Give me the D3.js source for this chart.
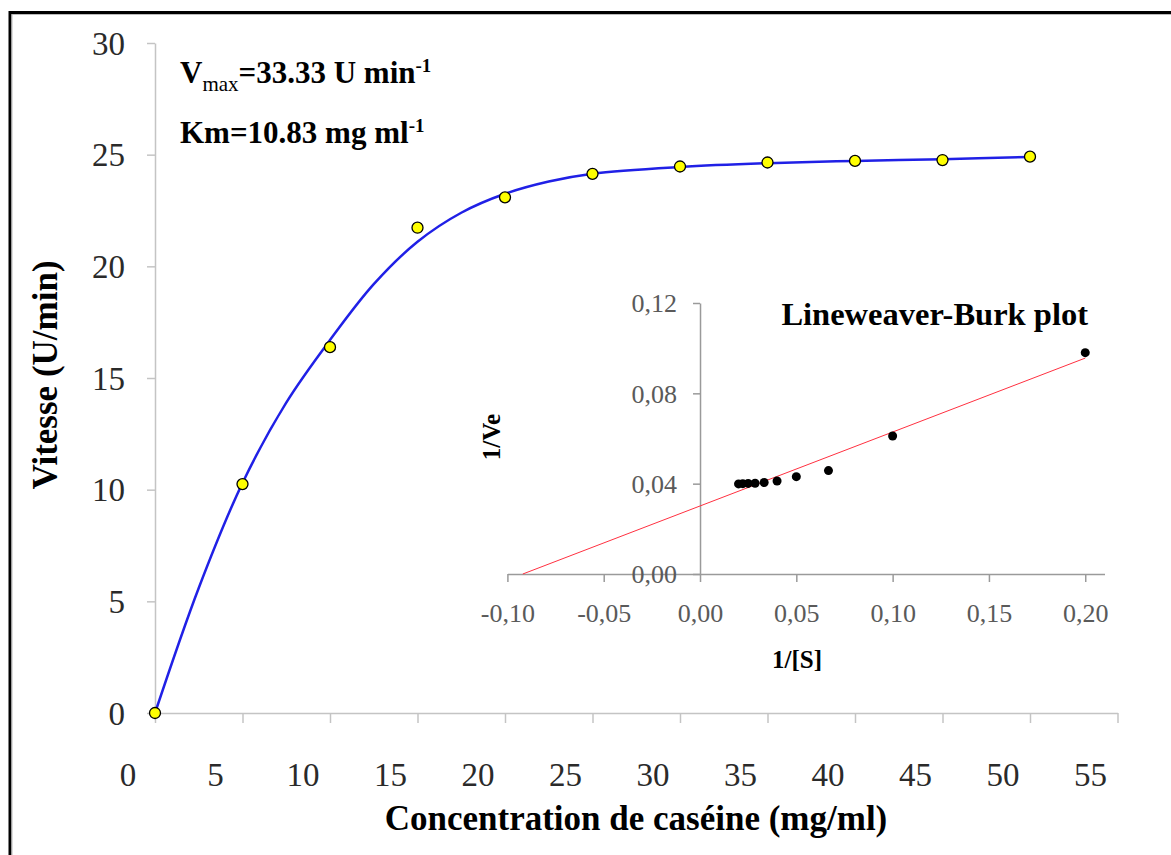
<!DOCTYPE html>
<html>
<head>
<meta charset="utf-8">
<script src="https://cdn.jsdelivr.net/npm/d3@7"></script>
<style>
  html, body { margin: 0; padding: 0; background: #fff; }
  svg { display: block; }
  text { font-family: "Liberation Serif", "Times New Roman", serif; }
</style>
</head>
<body>
<svg id="chart" width="1171" height="855"></svg>
<script>
// Casein concentration (mg/ml) and measured reaction rate (U/min)
const concentration = [0, 5, 10, 15, 20, 25, 30, 35, 40, 45, 50];
const rate = [0, 10.25, 16.38, 21.73, 23.09, 24.14, 24.47, 24.65, 24.72, 24.76, 24.91];

// Fitted saturation curve
const fitConc = [0, 2.5, 5, 7.5, 10, 12.5, 15, 17.5, 20, 22.5, 25, 30, 35, 40, 45, 50];
const fitRate = [0, 5.6, 10.3, 13.9, 16.7, 19.2, 21.1, 22.4, 23.25, 23.8, 24.15, 24.45, 24.62, 24.72, 24.8, 24.9];

// Main axis ticks
const xTicks = [0, 5, 10, 15, 20, 25, 30, 35, 40, 45, 50, 55];
const yTicks = [0, 5, 10, 15, 20, 25, 30];

// Lineweaver-Burk inset: 1/[S] and 1/V
const invS = [0.2, 0.1, 0.0667, 0.05, 0.04, 0.0333, 0.0286, 0.025, 0.0222, 0.02];
const invV = [0.098, 0.0611, 0.0458, 0.0431, 0.0412, 0.0405, 0.0402, 0.0401, 0.0400, 0.0399];
// Linear regression line end points
const lbLineX = [-0.092, 0.2];
const lbLineY = [0.0, 0.0956];
const insetXTicks = [-0.10, -0.05, 0.00, 0.05, 0.10, 0.15, 0.20];
const insetYTicks = [0.00, 0.04, 0.08, 0.12];

const svg = d3.select("#chart");

// Outer frame
svg.append("rect")
  .attr("x", 10).attr("y", 12.5)
  .attr("width", 1200).attr("height", 900)
  .attr("fill", "none").attr("stroke", "#000").attr("stroke-width", 3);
svg.append("path")
  .attr("d", "M12,1000 V14.5 H1200")
  .attr("fill", "none").attr("stroke", "#bbb").attr("stroke-width", 1);

// ---------- Main plot ----------
const x = d3.scaleLinear().domain([0, 55]).range([155, 1117.5]);
const y = d3.scaleLinear().domain([0, 30]).range([713, 43]);

const axisColor = "#c4c4c4";

const gx = svg.append("g").attr("transform", `translate(0,${y(0)})`)
  .call(d3.axisBottom(x).tickValues(xTicks).tickSize(10).tickSizeOuter(0).tickFormat(d3.format("d")));
gx.select(".domain").attr("stroke", axisColor).attr("stroke-width", 1.5);
gx.selectAll(".tick line").attr("stroke", axisColor).attr("stroke-width", 1.5);
gx.selectAll(".tick text")
  .attr("font-family", "Liberation Serif, serif")
  .attr("font-size", 33).attr("fill", "#2a2a2a")
  .attr("dx", -27.5).attr("y", 0).attr("dy", 73);

const gy = svg.append("g").attr("transform", `translate(${x(0)},0)`)
  .call(d3.axisLeft(y).tickValues(yTicks).tickSize(8).tickSizeOuter(0).tickFormat(d3.format("d")));
gy.select(".domain").attr("stroke", axisColor).attr("stroke-width", 1.5);
gy.selectAll(".tick line").attr("stroke", axisColor).attr("stroke-width", 1.5);
gy.selectAll(".tick text")
  .attr("font-family", "Liberation Serif, serif")
  .attr("font-size", 33).attr("fill", "#2a2a2a")
  .attr("x", -30).attr("dy", "0.34em");

// Fitted curve
const line = d3.line()
  .x((d, i) => x(fitConc[i]))
  .y(d => y(d))
  .curve(d3.curveCatmullRom.alpha(0.5));
svg.append("path")
  .datum(fitRate)
  .attr("d", line)
  .attr("fill", "none")
  .attr("stroke", "#2020e6")
  .attr("stroke-width", 2.5);

// Measured points
svg.append("g").selectAll("circle")
  .data(rate)
  .join("circle")
  .attr("cx", (d, i) => x(concentration[i]))
  .attr("cy", d => y(d))
  .attr("r", 5.5)
  .attr("fill", "#ffff00")
  .attr("stroke", "#000")
  .attr("stroke-width", 1.3);

// Axis titles
svg.append("text")
  .attr("x", 636).attr("y", 830)
  .attr("text-anchor", "middle")
  .attr("font-size", 35).attr("font-weight", "bold")
  .text("Concentration de caséine (mg/ml)");

svg.append("text")
  .attr("transform", "translate(57,375) rotate(-90)")
  .attr("text-anchor", "middle")
  .attr("font-size", 35).attr("font-weight", "bold")
  .text("Vitesse (U/min)");

// Kinetic constants
const t1 = svg.append("text").attr("x", 180).attr("y", 83)
  .attr("font-size", 31).attr("font-weight", "bold");
t1.append("tspan").text("V");
t1.append("tspan").attr("font-size", 21).attr("font-weight", "normal").attr("dy", 8).text("max");
t1.append("tspan").attr("dy", -8).text("=33.33 U min");
t1.append("tspan").attr("font-size", 19).attr("dy", -11).text("-1");

const t2 = svg.append("text").attr("x", 180).attr("y", 143)
  .attr("font-size", 31).attr("font-weight", "bold");
t2.append("tspan").text("Km=10.83 mg ml");
t2.append("tspan").attr("font-size", 19).attr("dy", -11).text("-1");

// ---------- Lineweaver-Burk inset ----------
const ix = d3.scaleLinear().domain([-0.10, 0.21]).range([507.4, 1104.5]);
const iy = d3.scaleLinear().domain([0, 0.12]).range([574, 303]);
const commaLocale = d3.formatLocale({ decimal: ",", thousands: ".", grouping: [3], currency: ["", ""], minus: "-" });
const fmt2 = commaLocale.format(".2f");
const insetAxisColor = "#9a9a9a";

const igx = svg.append("g").attr("transform", `translate(0,${iy(0)})`)
  .call(d3.axisBottom(ix).tickValues(insetXTicks).tickSize(8).tickSizeOuter(0).tickFormat(fmt2));
igx.select(".domain").attr("stroke", insetAxisColor).attr("stroke-width", 1.5);
igx.selectAll(".tick line").attr("stroke", insetAxisColor).attr("stroke-width", 1.5);
igx.selectAll(".tick text")
  .attr("font-family", "Liberation Serif, serif")
  .attr("font-size", 26).attr("fill", "#5a5a5a")
  .attr("y", 0).attr("dy", 48);

const igy = svg.append("g").attr("transform", `translate(${ix(0)},0)`)
  .call(d3.axisLeft(iy).tickValues(insetYTicks).tickSize(7).tickSizeOuter(0).tickFormat(fmt2));
igy.select(".domain").attr("stroke", insetAxisColor).attr("stroke-width", 1.5);
igy.selectAll(".tick line").attr("stroke", insetAxisColor).attr("stroke-width", 1.5);
igy.selectAll(".tick text")
  .attr("font-family", "Liberation Serif, serif")
  .attr("font-size", 26).attr("fill", "#5a5a5a")
  .attr("x", -23).attr("dy", "0.34em");

// Regression line
svg.append("line")
  .attr("x1", ix(lbLineX[0])).attr("y1", iy(lbLineY[0]))
  .attr("x2", ix(lbLineX[1])).attr("y2", iy(lbLineY[1]))
  .attr("stroke", "#ff3040").attr("stroke-width", 1);

// Reciprocal points
svg.append("g").selectAll("circle")
  .data(invV)
  .join("circle")
  .attr("cx", (d, i) => ix(invS[i]))
  .attr("cy", d => iy(d))
  .attr("r", 4.5)
  .attr("fill", "#000");

svg.append("text")
  .attr("x", 1088).attr("y", 325)
  .attr("text-anchor", "end")
  .attr("font-size", 32.5).attr("font-weight", "bold")
  .text("Lineweaver-Burk plot");

svg.append("text")
  .attr("x", 797).attr("y", 668)
  .attr("text-anchor", "middle")
  .attr("font-size", 25).attr("font-weight", "bold")
  .text("1/[S]");

svg.append("text")
  .attr("transform", "translate(500,437) rotate(-90)")
  .attr("text-anchor", "middle")
  .attr("font-size", 25).attr("font-weight", "bold")
  .text("1/Ve");
</script>
</body>
</html>
